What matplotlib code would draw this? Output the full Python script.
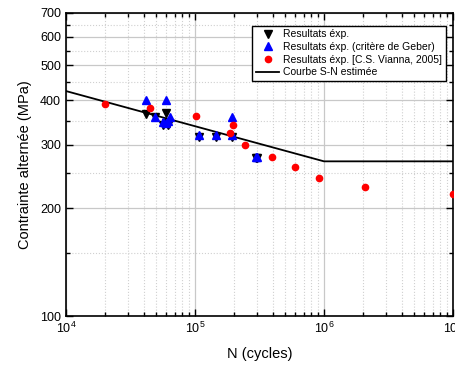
import numpy as np
import matplotlib.pyplot as plt
from matplotlib.ticker import FixedLocator, NullFormatter, LogLocator

plt.rcParams['font.family'] = ['Liberation Sans', 'DejaVu Sans']
plt.rcParams['mathtext.fontset'] = 'custom'
plt.rcParams['mathtext.rm'] = 'Liberation Sans'
plt.rcParams['mathtext.it'] = 'Liberation Sans'

# Resultats exp. (triangles noirs)
n_exp = [4.2e4, 4.9e4, 5.7e4, 6.0e4, 6.2e4, 6.0e4, 1.07e5, 1.46e5, 1.92e5, 2.95e5, 3.0e5]
s_exp = [366, 358, 340, 368, 340, 345, 316, 316, 316, 275, 275]

# Resultats exp. (critere de Geber)
n_geb = [4.2e4, 6.0e4, 4.9e4, 6.4e4, 5.7e4, 6.0e4, 6.2e4, 1.07e5, 1.46e5, 1.92e5, 1.92e5, 2.95e5, 3.0e5]
s_geb = [400, 400, 360, 360, 348, 345, 350, 320, 320, 360, 320, 278, 278]

# Resultats exp. [C.S. Vianna, 2005]
n_via = [2.0e4, 4.5e4, 1.02e5, 1.96e5, 1.87e5, 2.44e5, 3.97e5, 5.96e5, 9.1e5, 2.08e6, 1.0e7]
s_via = [390, 380, 361, 341, 324, 300, 277, 260, 242, 229, 219]

# Courbe S-N estimee
n_sn = [1e4, 1e6, 1e7]
s_sn = [424, 270, 270]

y_major = [100, 200, 300, 400, 500, 600, 700]
y_minor = [150, 250, 350, 450, 550, 650]

fig = plt.figure(figsize=(4.56, 3.70), dpi=100)
ax = fig.add_axes([0.1447, 0.1459, 0.8487, 0.819])

ax.plot(n_exp, s_exp, linestyle='none', marker='v', color='black', markersize=6, label='Resultats éxp.', zorder=3)
ax.plot(n_geb, s_geb, linestyle='none', marker='^', color='#0000ff', markersize=6, label='Resultats éxp. (critère de Geber)', zorder=4)
ax.plot(n_via, s_via, linestyle='none', marker='o', color='#ff0000', markersize=4.5, label='Resultats éxp. [C.S. Vianna, 2005]', zorder=5)
ax.plot(n_sn, s_sn, color='black', linewidth=1.3, label='Courbe S-N estimée', zorder=2)

ax.set_xscale('log')
ax.set_yscale('log')
ax.set_xlim(1e4, 1e7)
ax.set_ylim(100, 700)

ax.yaxis.set_major_locator(FixedLocator(y_major))
ax.yaxis.set_minor_locator(FixedLocator(y_minor))
ax.set_yticklabels([str(v) for v in y_major])
ax.yaxis.set_minor_formatter(NullFormatter())
ax.xaxis.set_major_locator(LogLocator(base=10, numticks=10))
ax.xaxis.set_minor_locator(LogLocator(base=10, subs=np.arange(2, 10), numticks=10))
ax.xaxis.set_minor_formatter(NullFormatter())

ax.grid(which='major', color='#c8c8c8', linewidth=0.9, linestyle='-')
ax.grid(which='minor', color='#d0d0d0', linewidth=0.8, linestyle=':')
ax.set_axisbelow(True)

ax.tick_params(which='both', direction='in', top=True, right=True, labelsize=9, width=1)
ax.tick_params(which='major', length=5)
ax.tick_params(which='minor', length=3)
for sp in ax.spines.values():
    sp.set_linewidth(1.2)

ax.set_xlabel('N (cycles)', fontsize=10.5, labelpad=8)
ax.set_ylabel('Contrainte alternée (MPa)', fontsize=10.5, labelpad=6)

leg = ax.legend(loc='upper right', bbox_to_anchor=(0.995, 0.975), fontsize=7.5, fancybox=False,
                edgecolor='black', framealpha=1, handlelength=2.2, borderpad=0.35,
                labelspacing=0.25, handletextpad=0.4)
leg.get_frame().set_linewidth(1.0)

fig.savefig('out.png', dpi=100)
